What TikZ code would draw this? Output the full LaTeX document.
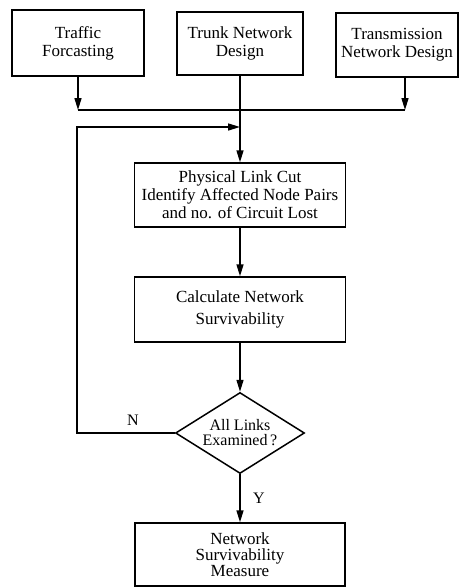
\documentclass[tikz,border=0pt]{standalone}
\usepackage{fontspec}
\setmainfont{Liberation Serif}
\usetikzlibrary{shapes,arrows.meta,positioning,calc}

\tikzset{
  box/.style={draw, line width=1.5pt, inner sep=0pt, align=center,
    font=\fontsize{17}{18}\selectfont},
  decision/.style={draw, diamond, line width=1.5pt, inner sep=0pt, aspect=1.6,
    align=center, font=\fontsize{16}{15}\selectfont},
  flow/.style={line width=1.5pt, -{Triangle[length=12pt,width=7pt]}},
  wire/.style={line width=1.5pt}
}

\begin{document}
\begin{tikzpicture}[x=1pt,y=-1pt]
  \useasboundingbox (0,0) rectangle (459,587);

  % planning inputs
  \node[box, minimum width=132pt, minimum height=66pt] (traffic) at (78,43) {Traffic\\Forcasting};
  \node[box, minimum width=126pt, minimum height=63pt] (trunk) at (240,43.5) {Trunk Network\\Design};
  \node[box, minimum width=122pt, minimum height=64pt] (trans) at (397,45) {Transmission\\Network Design};

  % main loop
  \node[box, minimum width=211pt, minimum height=64pt] (cut) at (240,195)
    {Physical Link Cut\\Identify Affected Node Pairs\\and no. of Circuit Lost};
  \node[box, minimum width=211pt, minimum height=65pt] (surv) at (240,309.5)
    {Calculate Network\\[4pt]Survivability};
  \node[decision, minimum width=129pt, minimum height=81pt] (check) at (240,433)
    {All Links\\Examined\,?};
  \node[box, minimum width=210pt, minimum height=63pt, font=\fontsize{17}{16}\selectfont] (measure) at (240,554.5)
    {Network\\Survivability\\Measure};

  % inputs join on a common bus
  \coordinate (bus) at (0,110);
  \coordinate (tx) at ([xshift=8pt]trans.south);
  \draw[flow] (traffic.south) -- (traffic.south |- bus);
  \draw[flow] (tx) -- (tx |- bus);
  \draw[wire] (traffic.south |- bus) -- (tx |- bus);

  \draw[flow] (trunk.south) -- (cut.north);
  \draw[flow] (cut) -- (surv);
  \draw[flow] (surv) -- (check);
  \draw[flow] (check) -- (measure);
  \node[font=\fontsize{16}{16}\selectfont] (yes) at (259,498) {Y};

  % back to the next link
  \coordinate (back) at (77,127);
  \draw[flow] (check.west) -| (back) -- (back -| cut.north);
  \node[font=\fontsize{16}{16}\selectfont] (no) at (133,420) {N};
\end{tikzpicture}
\end{document}
